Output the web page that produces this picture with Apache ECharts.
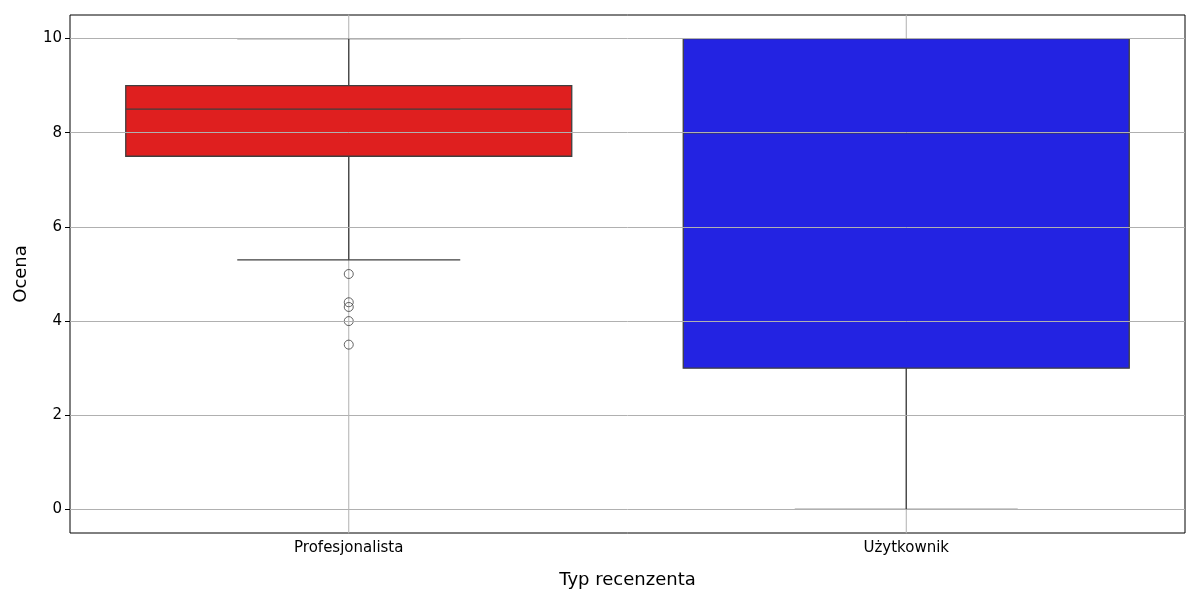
<!doctype html>
<html lang="en">
<head>
<meta charset="utf-8">
<script src="https://cdn.jsdelivr.net/npm/echarts@6/dist/echarts.min.js"></script>
<style>body{margin:0}#c{width:1200px;height:600px}</style>
</head>
<body>
<div id="c"></div>
<script>
var categories = ['Profesjonalista', 'Użytkownik'];
// [min, q1, median, q3, max]
var boxStats = [[5.3, 7.5, 8.5, 9, 10], [0, 3, 8, 10, 10]];
var boxColors = ['#df1f1f', '#2323e2'];
var outliers = [[0, 5], [0, 4.4], [0, 4.3], [0, 4], [0, 3.5]];
var yTicks = [0, 2, 4, 6, 8, 10];

var chart = echarts.init(document.getElementById('c'));
var lineCol = '#3f3f3f';

function renderBox(params, api) {
  var i = api.value(0);
  var band = api.size([1, 0])[0];
  var half = band * 0.4, cap = band * 0.2;
  var cx = api.coord([i, 0])[0];
  var y = function (k) { return api.coord([i, api.value(k)])[1]; };
  var yMin = y(1), yQ1 = y(2), yMed = y(3), yQ3 = y(4), yMax = y(5);
  var cs = params.coordSys;
  var ls = { stroke: lineCol, lineWidth: 1.3 };
  return {
    type: 'group',
    children: [
      { type: 'line', shape: { x1: cx, y1: cs.y, x2: cx, y2: cs.y + cs.height }, style: { stroke: '#b0b0b0', lineWidth: 1 }, z2: 0 },
      { type: 'line', shape: { x1: cx, y1: yMin, x2: cx, y2: yMax }, style: ls, z2: 1 },
      { type: 'line', shape: { x1: cx - cap, y1: yMin, x2: cx + cap, y2: yMin }, style: ls, z2: 1 },
      { type: 'line', shape: { x1: cx - cap, y1: yMax, x2: cx + cap, y2: yMax }, style: ls, z2: 1 },
      { type: 'rect', shape: { x: cx - half, y: yQ3, width: half * 2, height: yQ1 - yQ3 }, style: { fill: boxColors[i], stroke: lineCol, lineWidth: 1.3 }, z2: 2 },
      { type: 'line', shape: { x1: cx - half, y1: yMed, x2: cx + half, y2: yMed }, style: ls, z2: 3 }
    ]
  };
}

var boxData = boxStats.map(function (s, i) { return [i].concat(s); });

chart.setOption({
  animation: false,
  grid: { left: 70, right: 15, top: 15, bottom: 67, show: true, borderColor: '#000', borderWidth: 1 },
  xAxis: {
    type: 'category', data: categories,
    name: 'Typ recenzenta', nameLocation: 'middle', nameGap: 38,
    nameTextStyle: { fontSize: 18, color: '#000', fontFamily: 'DejaVu Sans' },
    axisLine: { show: false },
    axisTick: { alignWithLabel: true, length: 5, lineStyle: { color: '#000' } },
    axisLabel: { fontSize: 15, color: '#000', fontFamily: 'DejaVu Sans', margin: 8 },
    splitLine: { show: false }
  },
  yAxis: {
    type: 'value', min: -0.5, max: 10.5,
    name: 'Ocena', nameLocation: 'middle', nameGap: 40,
    nameTextStyle: { fontSize: 18, color: '#000', fontFamily: 'DejaVu Sans' },
    axisLine: { show: false },
    axisTick: { show: true, length: 5, lineStyle: { color: '#000' }, customValues: yTicks },
    axisLabel: { fontSize: 15, color: '#000', fontFamily: 'DejaVu Sans', customValues: yTicks, showMinLabel: true, showMaxLabel: true },
    splitLine: { show: false }
  },
  series: [
    {
      type: 'line', data: [], silent: true,
      markLine: {
        silent: true, symbol: 'none', label: { show: false },
        lineStyle: { color: '#b0b0b0', width: 1, type: 'solid' },
        data: yTicks.map(function (v) { return { yAxis: v }; })
      }
    },
    { type: 'custom', renderItem: renderBox, data: boxData, encode: { x: 0, y: [1, 2, 3, 4, 5] }, z: 3 },
    {
      type: 'scatter', data: outliers, symbol: 'circle', symbolSize: 9, z: 4,
      itemStyle: { color: 'rgba(0,0,0,0)', borderColor: lineCol, borderWidth: 1 }
    }
  ]
});
</script>
</body>
</html>
